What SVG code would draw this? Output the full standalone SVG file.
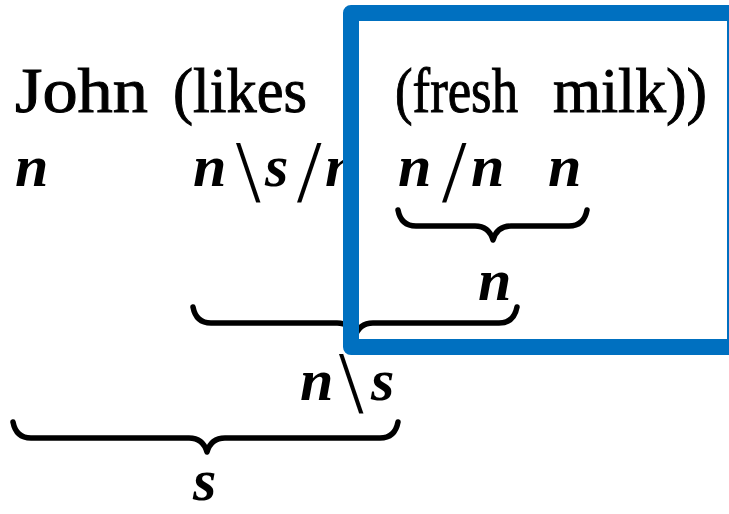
<svg xmlns="http://www.w3.org/2000/svg" width="729" height="514" viewBox="0 0 729 514">
<style>
.w{font-family:"Liberation Serif","Times New Roman",serif;font-size:64px;fill:#000;stroke:#000;stroke-width:1}
.m{font-family:"Liberation Serif","Times New Roman",serif;font-size:60px;font-style:italic;font-weight:bold;fill:#000}
.sl{font-family:"Liberation Serif","Times New Roman",serif;font-size:88px;fill:#000}
.br{fill:none;stroke:#000;stroke-width:5.5;stroke-linecap:round;stroke-linejoin:round}
</style>
<rect width="729" height="514" fill="#fff"/>
<g id="words">
<text class="w" x="15" y="112" textLength="133" lengthAdjust="spacingAndGlyphs">John</text>
<text class="w" x="173" y="112" textLength="134" lengthAdjust="spacingAndGlyphs">(likes</text>
<text class="w" x="395" y="112" textLength="123" lengthAdjust="spacingAndGlyphs">(fresh</text>
<text class="w" x="553" y="112" textLength="154" lengthAdjust="spacingAndGlyphs">milk))</text>
</g>
<g id="categories">
<text class="m" x="15" y="186">n</text>
<text class="m" x="193" y="186">n</text>
<text class="sl" x="236" y="201">\</text>
<text class="m" x="265" y="186">s</text>
<text class="sl" x="297" y="201">/</text>
<text class="m" x="325" y="186">n</text>
<text class="m" x="398" y="186">n</text>
<text class="sl" x="442" y="201">/</text>
<text class="m" x="471" y="186">n</text>
<text class="m" x="548" y="186">n</text>
<text class="m" x="478" y="300">n</text>
<text class="m" x="300" y="400">n</text>
<text class="sl" x="339" y="412">\</text>
<text class="m" x="371" y="400">s</text>
<text class="m" x="193" y="500">s</text>
</g>
<g id="braces">
<path class="br" d="M398,210 Q401,226 416,226 H475 Q489,226 493,240 Q497,226 511,226 H569 Q584,226 587,210"/>
<path class="br" d="M193,307 Q196,323 211,323 H337 Q351,323 355,337 Q359,323 373,323 H499 Q514,323 517,307"/>
<path class="br" d="M13,422 Q16,438 31,438 H189 Q203,438 207,452 Q211,438 225,438 H380 Q395,438 398,422"/>
</g>
<rect id="highlight" x="351" y="13" width="384" height="334" fill="none" stroke="#0070c0" stroke-width="16" stroke-linejoin="round"/>
</svg>
